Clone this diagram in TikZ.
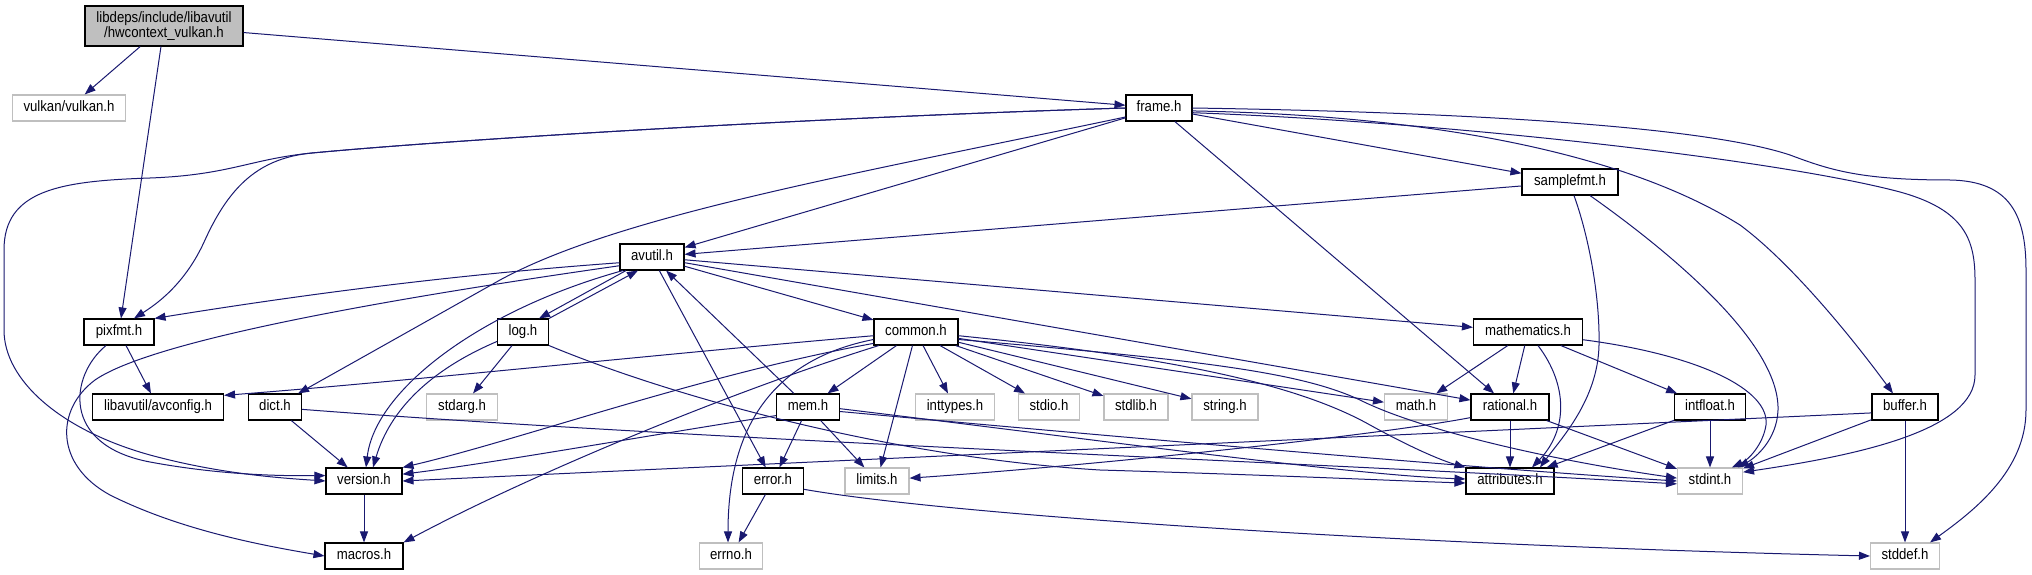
\documentclass[tikz,border=0pt]{standalone}
\usepackage{fontspec}
\setmainfont{Liberation Sans}[FakeStretch=0.88]
\usetikzlibrary{arrows.meta}
\definecolor{edgeblue}{RGB}{25,25,112}
\definecolor{sysgray}{RGB}{191,191,191}
\begin{document}
\begin{tikzpicture}[x=1pt,y=-1pt,
  box/.style={draw=black, line width=1.1pt, fill=white, inner sep=0pt, font=\fontsize{15pt}{15pt}\selectfont},
  file/.style={box, minimum height=26pt, text height=11pt, text depth=3.2pt},
  sysfile/.style={file, draw=sysgray},
  edge/.style={draw=edgeblue, line width=1pt, -{Triangle[length=11pt,width=8pt]}}]
\useasboundingbox[fill=white] (0,0) rectangle (2032,575);

% nodes
\node[box, fill=sysgray, minimum width=158pt, minimum height=40pt, align=center] (hw) at (164,26) {libdeps/include/libavutil\\/hwcontext\_vulkan.h};
\node[sysfile, minimum width=113pt] (vulkan) at (69,108) {vulkan/vulkan.h};
\node[file, minimum width=66pt] (frame) at (1159,108) {frame.h};
\node[file, minimum width=96pt] (samplefmt) at (1570,182) {samplefmt.h};
\node[file, minimum width=64pt] (avutil) at (652,257) {avutil.h};
\node[file, minimum width=70pt] (pixfmt) at (119,332) {pixfmt.h};
\node[file, minimum width=51pt] (log) at (523,332) {log.h};
\node[file, minimum width=84pt] (common) at (916,332) {common.h};
\node[file, minimum width=109pt] (mathematics) at (1528,332) {mathematics.h};
\node[file, minimum width=131pt] (avconfig) at (158,407) {libavutil/avconfig.h};
\node[file, minimum width=53pt] (dict) at (275,407) {dict.h};
\node[sysfile, minimum width=71pt] (stdarg) at (462,407) {stdarg.h};
\node[file, minimum width=63pt] (mem) at (808,407) {mem.h};
\node[sysfile, minimum width=79pt] (inttypes) at (955,407) {inttypes.h};
\node[sysfile, minimum width=61pt] (stdio) at (1049,407) {stdio.h};
\node[sysfile, minimum width=64pt] (stdlib) at (1136,407) {stdlib.h};
\node[sysfile, minimum width=66pt] (string) at (1225,407) {string.h};
\node[sysfile, minimum width=63pt] (math) at (1416,407) {math.h};
\node[file, minimum width=78pt] (rational) at (1510,407) {rational.h};
\node[file, minimum width=71pt] (intfloat) at (1710,407) {intfloat.h};
\node[file, minimum width=66pt] (buffer) at (1905,407) {buffer.h};
\node[file, minimum width=76pt] (version) at (364,481) {version.h};
\node[file, minimum width=61pt] (error) at (773,481) {error.h};
\node[sysfile, minimum width=64pt] (limits) at (877,481) {limits.h};
\node[file, minimum width=88pt] (attributes) at (1510,481) {attributes.h};
\node[sysfile, minimum width=65pt] (stdint) at (1710,481) {stdint.h};
\node[file, minimum width=78pt] (macros) at (364,556) {macros.h};
\node[sysfile, minimum width=63pt] (errno) at (731,556) {errno.h};
\node[sysfile, minimum width=69pt] (stddef) at (1905,556) {stddef.h};

% hwcontext_vulkan.h
\draw[edge] (hw) -- (vulkan);
\draw[edge] (hw) -- (pixfmt);
\draw[edge] (hw) -- (frame);

% frame.h
\draw[edge] (frame.west) .. controls (800,118) and (450,140) .. (312,153) .. controls (250,159) and (230,175) .. (150,178) .. controls (60,181) and (4,190) .. (4,250) -- (4,330) .. controls (4,380) and (60,430) .. (150,455) .. controls (220,474) and (280,478) .. (version.west);
\draw[edge] (frame.west) .. controls (800,118) and (450,140) .. (312,153) .. controls (260,158) and (230,185) .. (205,240) .. controls (185,285) and (155,305) .. ([xshift=15pt]pixfmt.north);
\draw[edge] (frame.195) .. controls (850,175) and (620,215) .. (500,280) .. controls (420,325) and (340,370) .. ([xshift=-4pt]dict.north east);
\draw[edge] (frame) -- (avutil);
\draw[edge] (frame) -- (samplefmt);
\draw[edge] (frame) -- (rational);
\draw[edge] (frame.-5) .. controls (1420,115) and (1620,150) .. (1740,225) .. controls (1790,262) and (1850,335) .. ([xshift=-12pt]buffer.north);
\draw[edge] (frame.-8) .. controls (1450,122) and (1780,160) .. (1900,192) .. controls (1965,210) and (1975,240) .. (1975,280) -- (1975,375) .. controls (1975,430) and (1860,455) .. (stdint.15);
\draw[edge] (frame.east) .. controls (1450,112) and (1700,125) .. (1790,155) .. controls (1830,170) and (1860,180) .. (1950,180) .. controls (2010,181) and (2026,215) .. (2026,270) -- (2026,410) .. controls (2026,470) and (1975,510) .. ([xshift=25pt]stddef.north);

% samplefmt.h
\draw[edge] (samplefmt) -- (avutil);
\draw[edge] ([xshift=4pt]samplefmt.south) .. controls (1590,240) and (1600,300) .. (1599,345) .. controls (1598,400) and (1560,440) .. ([xshift=30pt]attributes.north);
\draw[edge] ([xshift=20pt]samplefmt.south) .. controls (1660,245) and (1780,340) .. (1778,410) .. controls (1777,440) and (1755,458) .. ([xshift=28pt]stdint.north);

% avutil.h
\draw[edge] ([xshift=-26pt]avutil.south) -- ([xshift=16pt]log.north);
\draw[edge] (avutil.190) .. controls (450,275) and (300,295) .. (pixfmt.north east);
\draw[edge] (avutil.195) .. controls (450,290) and (160,335) .. (95,380) .. controls (55,410) and (55,465) .. (110,495) .. controls (180,530) and (260,545) .. (macros.west);
\draw[edge] (avutil.205) .. controls (480,310) and (375,390) .. ([xshift=2pt]version.north);
\draw[edge] (avutil) -- (error);
\draw[edge] (avutil) -- (common);
\draw[edge] (avutil) -- (mathematics);
\draw[edge] (avutil) -- (rational);

% log.h
\draw[edge] (log.north east) -- ([xshift=-14pt]avutil.south);
\draw[edge] (log) -- (stdarg);
\draw[edge] (log.200) .. controls (430,370) and (390,410) .. ([xshift=9pt]version.north);
\draw[edge] (log.south east) .. controls (680,400) and (900,458) .. (1100,470) .. controls (1300,476) and (1400,481) .. ([yshift=-2pt]attributes.west);

% pixfmt.h
\draw[edge] (pixfmt) -- (avconfig);
\draw[edge] ([xshift=-13pt]pixfmt.south) .. controls (70,375) and (60,445) .. (150,462) .. controls (220,475) and (280,476) .. (version.172);

% dict.h
\draw[edge] (dict) -- (version);
\draw[edge] (dict.-5) .. controls (700,440) and (1300,462) .. (stdint.185);

% common.h
\draw[edge] (common.185) .. controls (650,355) and (400,382) .. (avconfig.10);
\draw[edge] (common.195) .. controls (700,375) and (520,440) .. (version.north east);
\draw[edge] (common.200) .. controls (720,395) and (520,480) .. (macros.north east);
\draw[edge] (common.190) .. controls (770,360) and (728,430) .. ([xshift=-3pt]errno.north);
\draw[edge] (common) -- (mem);
\draw[edge] (common) -- (limits);
\draw[edge] (common) -- (inttypes);
\draw[edge] (common) -- (stdio);
\draw[edge] (common) -- (stdlib);
\draw[edge] (common) -- (string);
\draw[edge] (common) -- (math);
\draw[edge] (common.-5) .. controls (1150,355) and (1290,380) .. (1370,425) .. controls (1410,447) and (1440,460) .. (attributes.north west);
\draw[edge] (common.-10) .. controls (1200,360) and (1300,372) .. (1360,400) .. controls (1420,430) and (1550,460) .. (stdint.175);

% mem.h
\draw[edge] (mem) -- (avutil);
\draw[edge] (mem) -- (error);
\draw[edge] (mem) -- (limits);
\draw[edge] (mem.-3) .. controls (1100,440) and (1350,475) .. ([yshift=2pt]attributes.west);
\draw[edge] (mem.-8) .. controls (1150,440) and (1500,470) .. (stdint.west);
\draw[edge] (mem.195) .. controls (650,435) and (500,462) .. (version.10);

% error.h
\draw[edge] (error) -- (errno);
\draw[edge] (error.-15) .. controls (950,515) and (1400,545) .. (stddef.west);

% rational.h
\draw[edge] (rational) -- (attributes);
\draw[edge] (rational) -- (stdint);
\draw[edge] (rational.195) .. controls (1380,435) and (1100,465) .. (limits.5);

% mathematics.h
\draw[edge] (mathematics) -- (math);
\draw[edge] (mathematics) -- (rational);
\draw[edge] (mathematics) -- (intfloat);
\draw[edge] ([xshift=10pt]mathematics.south) .. controls (1568,385) and (1568,430) .. ([xshift=22pt]attributes.north);
\draw[edge] (mathematics.-8) .. controls (1700,355) and (1770,390) .. (1766,425) .. controls (1763,445) and (1748,460) .. ([xshift=22pt]stdint.north);

% intfloat.h
\draw[edge] (intfloat) -- (stdint);
\draw[edge] (intfloat) -- (attributes);

% buffer.h
\draw[edge] (buffer.190) -- (version.east);
\draw[edge] (buffer) -- (stdint);
\draw[edge] (buffer) -- (stddef);

% version.h
\draw[edge] (version) -- (macros);
\end{tikzpicture}
\end{document}
